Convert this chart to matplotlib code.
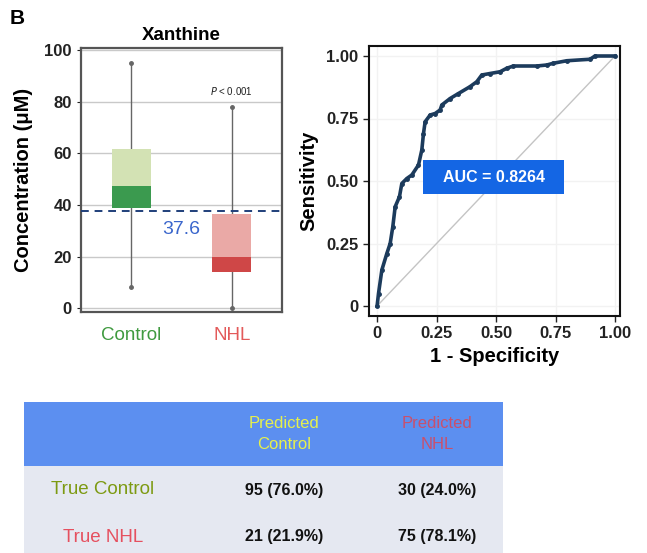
import matplotlib
matplotlib.use('Agg')
import matplotlib.pyplot as plt
from matplotlib.patches import Rectangle

plt.rcParams['font.family'] = ['Liberation Sans', 'DejaVu Sans']

W, H = 647, 553

# box plot summary: whisker low, Q1, median, Q3, whisker high
groups = ['Control', 'NHL']
whislo = [8, 0]
q1 = [38.8, 14]
med = [47.3, 19.8]
q3 = [61.5, 36.4]
whishi = [95, 78]
cutoff = 37.6
light_cols = ['#d3e2b4', '#eaa9a6']
dark_cols = ['#3b9a4f', '#cf4747']
label_cols = ['#3f9a3f', '#e35a5a']

# ROC curve
fpr = [0, 0.006, 0.02, 0.041, 0.055, 0.066, 0.076, 0.094, 0.104, 0.125,
       0.146, 0.174, 0.188, 0.195, 0.202, 0.223, 0.244, 0.265, 0.272, 0.307,
       0.342, 0.39, 0.419, 0.44, 0.475, 0.517, 0.545, 0.573, 0.671, 0.713,
       0.741, 0.797, 0.895, 0.916, 1.0]
tpr = [0, 0.05, 0.144, 0.21, 0.25, 0.317, 0.397, 0.437, 0.49, 0.51,
       0.524, 0.564, 0.624, 0.69, 0.737, 0.764, 0.77, 0.784, 0.804, 0.83,
       0.85, 0.877, 0.897, 0.924, 0.93, 0.937, 0.951, 0.96, 0.96, 0.964,
       0.971, 0.981, 0.987, 1.0, 1.0]
auc = 0.8264

# confusion table
row_names = ['True Control', 'True NHL']
col_names = ['Predicted\nControl', 'Predicted\nNHL']
counts = [[95, 30], [21, 75]]


def fx(px):
    return px / W


def fy(py):
    return 1 - py / H


fig = plt.figure(figsize=(W / 100, H / 100), dpi=100)

# ---- box plot ----
ax1 = fig.add_axes([fx(81), fy(312), (282 - 81) / W, (312 - 48) / H])
ax1.set_xlim(0.5, 2.5)
ax1.set_ylim(-1.5, 100.8)
ax1.set_yticks([0, 20, 40, 60, 80, 100])
ax1.set_xticks([])
ax1.yaxis.grid(True, color='#c9c9c9', linewidth=1)
ax1.set_axisbelow(True)
for s in ax1.spines.values():
    s.set_color('#555555')
    s.set_linewidth(1.6)
ax1.tick_params(axis='y', length=3, labelsize=12, colors='#222222')
for t in ax1.get_yticklabels():
    t.set_fontweight('bold')

for i in range(2):
    x = i + 1
    ax1.plot([x, x], [whislo[i], q1[i]], color='#666666', lw=1, marker='o', markersize=2.5, markevery=[0], zorder=2)
    ax1.plot([x, x], [q3[i], whishi[i]], color='#666666', lw=1, marker='o', markersize=2.5, markevery=[1], zorder=2)
    ax1.bar(x, q3[i] - med[i], bottom=med[i], width=0.39, color=light_cols[i], zorder=3)
    ax1.bar(x, med[i] - q1[i], bottom=q1[i], width=0.39, color=dark_cols[i], zorder=3)

ax1.axhline(cutoff, color='#1f3f7a', lw=1.4, ls=(0, (4, 3)), zorder=4)
ax1.text(1.5, cutoff - 4, f'{cutoff}', color='#3a66cc', fontsize=14, ha='center', va='top', zorder=5)
ax1.text(2.0, 82, '$\\it{P}$ < 0.001', fontsize=7, ha='center', va='bottom', color='#222222')
ax1.set_ylabel('Concentration (\u03bcM)', fontsize=14.5, fontweight='bold', labelpad=8)
ax1.set_title('Xanthine', fontsize=13.5, fontweight='bold', pad=6)

for i, g in enumerate(groups):
    fig.text(fx(81 + 201 * (0.25 + 0.5 * i)), fy(336), g, color=label_cols[i],
             fontsize=13.5, ha='center', va='center')

fig.text(fx(10), fy(19), 'B', fontsize=15, fontweight='bold', ha='left', va='center')

# ---- ROC curve ----
ax2 = fig.add_axes([fx(369), fy(316), (620 - 369) / W, (316 - 46) / H])
ax2.set_xlim(-0.034, 1.021)
ax2.set_ylim(-0.04, 1.04)
ax2.plot([0, 1], [0, 1], color='#c4c4c4', lw=1, zorder=1)
ax2.plot(fpr, tpr, color='#1c3b5c', lw=2.6, marker='o', markersize=2.5, zorder=3)
ax2.grid(True, color='#f2f2f2', linewidth=1)
ax2.set_axisbelow(True)
ticks = [0, 0.25, 0.5, 0.75, 1.0]
tick_labels = ['0', '0.25', '0.50', '0.75', '1.00']
ax2.set_xticks(ticks, tick_labels)
ax2.set_yticks(ticks, tick_labels)
ax2.tick_params(length=4, width=1, labelsize=12, colors='#222222')
for t in ax2.get_xticklabels() + ax2.get_yticklabels():
    t.set_fontweight('bold')
for s in ax2.spines.values():
    s.set_color('#111111')
    s.set_linewidth(1.5)
ax2.set_xlabel('1 - Specificity', fontsize=14.5, fontweight='bold', labelpad=4)
ax2.set_ylabel('Sensitivity', fontsize=14.5, fontweight='bold', labelpad=6)
ax2.add_patch(Rectangle((0.193, 0.448), 0.593, 0.136, facecolor='#1466e4', edgecolor='none', zorder=4))
ax2.text(0.4895, 0.516, f'AUC = {auc}', color='white', fontsize=11.5, fontweight='bold',
         ha='center', va='center', zorder=5)

# ---- confusion table ----
ax3 = fig.add_axes([fx(24), 0, (503 - 24) / W, (553 - 402) / H])
ax3.set_xlim(24, 503)
ax3.set_ylim(553, 402)
ax3.axis('off')
ax3.add_patch(Rectangle((24, 402), 479, 64, facecolor='#5c8ff0', edgecolor='none'))
ax3.add_patch(Rectangle((24, 466), 479, 87, facecolor='#e5e8f1', edgecolor='none'))

col_x = [284, 437]
row_y = [490, 537]
head_cols = ['#e6f04c', '#c9506c']
row_cols = ['#7d9a12', '#e5505f']
for j in range(2):
    ax3.text(col_x[j], 434, col_names[j], color=head_cols[j], fontsize=12,
             ha='center', va='center', linespacing=1.45)
for i in range(2):
    ax3.text(103, row_y[i], row_names[i], color=row_cols[i], fontsize=13.5,
             ha='center', va='center')
    total = sum(counts[i])
    for j in range(2):
        pct = 100 * counts[i][j] / total
        ax3.text(col_x[j], row_y[i], f'{counts[i][j]} ({pct:.1f}%)', color='#111111', fontsize=11.5,
                 fontweight='bold', ha='center', va='center')

fig.savefig('out.png', dpi=100)
